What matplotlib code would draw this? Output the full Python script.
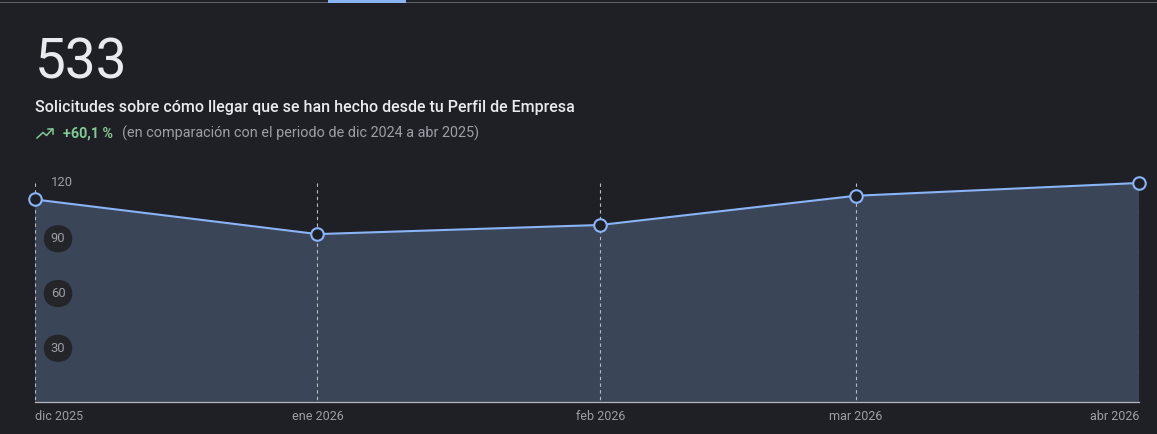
import datetime as dt
import matplotlib
matplotlib.use("Agg")
import matplotlib.pyplot as plt
import matplotlib.dates as mdates
from matplotlib.lines import Line2D
from matplotlib.patches import Rectangle
from matplotlib.transforms import ScaledTranslation

months = ["2025-12-01", "2026-01-01", "2026-02-01", "2026-03-01", "2026-04-01"]
month_labels = ["dic 2025", "ene 2026", "feb 2026", "mar 2026", "abr 2026"]
values = [111, 92, 97, 113, 120]
y_ticks = [30, 60, 90, 120]
total = "533"
subtitle = "Solicitudes sobre cómo llegar que se han hecho desde tu Perfil de Empresa"
delta = "+60,1 %"
comparison = "(en comparación con el periodo de dic 2024 a abr 2025)"

W, H = 1157, 434
BG = "#1f2025"
BLUE = "#8ab4f8"
FILL = "#3a4557"
GREY = "#9aa0a6"
plt.rcParams["font.family"] = ["Roboto", "DejaVu Sans"]
px = 72 / 100

dates = [dt.date.fromisoformat(m) for m in months]
xs = mdates.date2num(dates)

fig = plt.figure(figsize=(W / 100, H / 100), dpi=100, facecolor=BG)
ax = fig.add_axes([34.5 / W, (H - 402) / H, (1139 - 35) / W, (402 - 183) / H], facecolor=BG)
ax.set_xlim(xs[0], xs[-1])
ax.set_ylim(0, 120)

ax.fill_between(xs, values, 0, color=FILL, lw=0, zorder=1)
ax.vlines(xs, 120, 0, colors="#b9bcc1", lw=0.8, linestyles=(0, (3, 3)), zorder=2)
ax.plot(xs, values, color=BLUE, lw=1.5, marker="o", ms=9.0, mfc=BG, mec=BLUE, mew=1.5,
        clip_on=False, zorder=4)

for s in ["top", "left", "right"]:
    ax.spines[s].set_visible(False)
ax.spines["bottom"].set_color("#b4b8bd")
ax.spines["bottom"].set_linewidth(0.9)
ax.set_yticks([])
ax.set_xticks(xs)
ax.set_xticklabels(month_labels, color=GREY, fontsize=12.5 * px)
ax.tick_params(axis="x", length=0, pad=6)
labels = ax.get_xticklabels()
labels[0].set_ha("left")
labels[-1].set_ha("right")
shift = ScaledTranslation(0.5 / 100, 0, fig.dpi_scale_trans)
for lab in labels:
    lab.set_transform(lab.get_transform() + shift)

trans = ax.get_yaxis_transform()
for v in y_ticks:
    kw = {}
    if v != y_ticks[-1]:
        kw["bbox"] = dict(boxstyle="round,pad=0.55,rounding_size=1.2", fc="#232528", ec="none")
    ax.annotate(str(v), (0, v), xycoords=trans,
                xytext=(23.5 * px if v != y_ticks[-1] else 27 * px, 0 if v == y_ticks[-1] else -1 * px),
                textcoords="offset points", ha="center", va="center", color=GREY,
                fontsize=13 * px, zorder=5, annotation_clip=False, **kw)

fig.text(34.5 / W, 1 - 78.5 / H, total, color="#e8eaed", fontsize=55 * px, fontweight="normal",
         ha="left", va="baseline")
fig.text(35 / W, 1 - 112 / H, subtitle, color="#e8eaed", fontsize=16.08 * px, fontweight="medium",
         ha="left", va="baseline")
fig.text(63 / W, 1 - 138 / H, delta, color="#81c995", fontsize=14.2 * px, fontweight="bold",
         ha="left", va="baseline")
fig.text(122 / W, 1 - 137.5 / H, comparison, color=GREY, fontsize=14.45 * px,
         ha="left", va="baseline")

# trending-up icon
ix = [37, 43, 46.5, 52.5]
iy = [138, 132.5, 135.5, 129]
fig.add_artist(Line2D([a / W for a in ix], [1 - b / H for b in iy], color="#81c995", lw=1.1,
                      transform=fig.transFigure))
fig.add_artist(Line2D([48 / W, 53 / W, 53 / W], [1 - 129 / H, 1 - 129 / H, 1 - 134 / H],
                      color="#81c995", lw=1.1, transform=fig.transFigure))

# tab strip at the top edge
fig.add_artist(Rectangle((0, 1 - 3 / H), 1, 1.2 / H, color="#5f6368", lw=0, transform=fig.transFigure))
fig.add_artist(Rectangle((328 / W, 1 - 3 / H), 78 / W, 3 / H, color=BLUE, lw=0, transform=fig.transFigure))

fig.savefig("out.png", dpi=100, facecolor=BG)
